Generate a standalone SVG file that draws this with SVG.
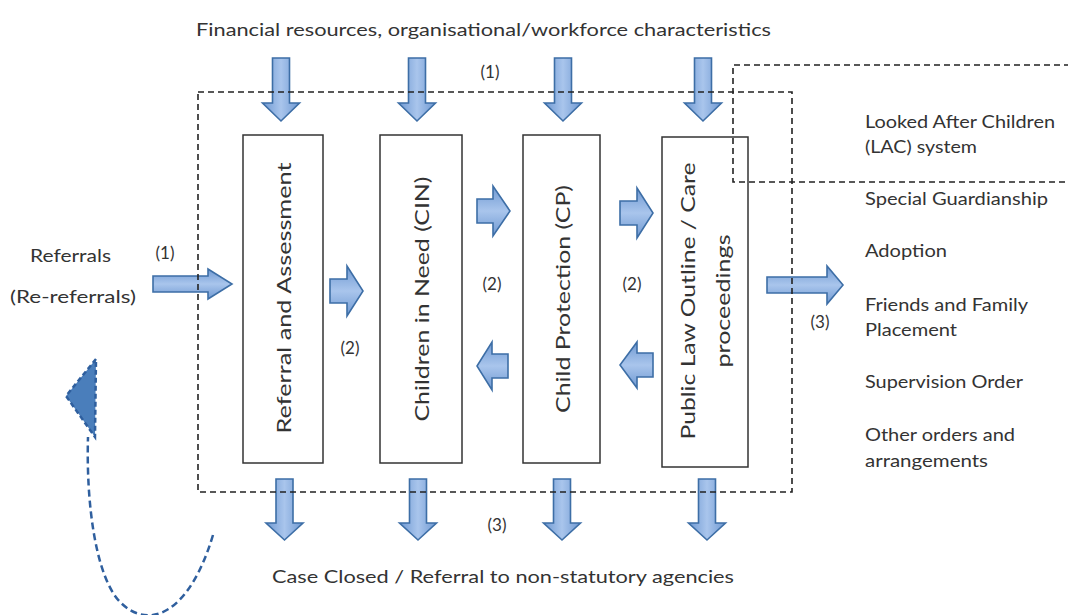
<svg xmlns="http://www.w3.org/2000/svg" width="1068" height="615" viewBox="0 0 1068 615">
<style>
.t{font-family:Lato,"Liberation Sans",sans-serif;fill:#333;}
.box{fill:#fff;stroke:#333;stroke-width:1.5;}
.dash{fill:none;stroke:#222;stroke-width:1.6;stroke-dasharray:6 4;}
.ah{fill:url(#gv);stroke:#3d6ea6;stroke-width:1.6;stroke-linejoin:miter;}
.av{fill:url(#gh);stroke:#3d6ea6;stroke-width:1.6;stroke-linejoin:miter;}
.lb{font-size:17px;text-anchor:middle;}
</style>
<defs>
<linearGradient id="gv" x1="0" y1="0" x2="0" y2="1">
<stop offset="0" stop-color="#6f99d2"/><stop offset="0.5" stop-color="#a9c5ec"/><stop offset="1" stop-color="#6f99d2"/>
</linearGradient>
<linearGradient id="gh" x1="0" y1="0" x2="1" y2="0">
<stop offset="0" stop-color="#6f99d2"/><stop offset="0.5" stop-color="#a9c5ec"/><stop offset="1" stop-color="#6f99d2"/>
</linearGradient>
</defs>
<rect width="1068" height="615" fill="#fff"/>

<g id="node-referral">
<rect class="box" x="243" y="135" width="80" height="328"/>
<text class="t" font-size="19.5" text-anchor="middle" textLength="271" lengthAdjust="spacingAndGlyphs" transform="translate(284,298) rotate(-90)" y="7">Referral and Assessment</text>
</g>
<g id="node-cin">
<rect class="box" x="380" y="135" width="82" height="328"/>
<text class="t" font-size="19.5" text-anchor="middle" textLength="245" lengthAdjust="spacingAndGlyphs" transform="translate(422,299) rotate(-90)" y="7">Children in Need (CIN)</text>
</g>
<g id="node-cp">
<rect class="box" x="523" y="135" width="77" height="328"/>
<text class="t" font-size="19.5" text-anchor="middle" textLength="228" lengthAdjust="spacingAndGlyphs" transform="translate(563,299) rotate(-90)" y="7">Child Protection (CP)</text>
</g>
<g id="node-plo">
<rect class="box" x="662" y="137" width="86" height="330"/>
<text class="t" font-size="19.5" text-anchor="middle" textLength="277" lengthAdjust="spacingAndGlyphs" transform="translate(688,301) rotate(-90)" y="7">Public Law Outline / Care</text>
<text class="t" font-size="19.5" text-anchor="middle" textLength="133" lengthAdjust="spacingAndGlyphs" transform="translate(723,301) rotate(-90)" y="7">proceedings</text>
</g>

<g id="node-inputs">
<text class="t" font-size="18" x="196" y="36" textLength="575" lengthAdjust="spacingAndGlyphs">Financial resources, organisational/workforce characteristics</text>
</g>
<g id="node-referrals">
<text class="t" font-size="18" x="30" y="262" textLength="81" lengthAdjust="spacingAndGlyphs">Referrals</text>
<text class="t" font-size="18" x="10" y="303" textLength="126" lengthAdjust="spacingAndGlyphs">(Re-referrals)</text>
</g>
<g id="node-lac">
<text class="t" font-size="17" x="865" y="128" textLength="190" lengthAdjust="spacingAndGlyphs">Looked After Children</text>
<text class="t" font-size="17" x="865" y="153" textLength="112" lengthAdjust="spacingAndGlyphs">(LAC) system</text>
</g>
<g id="node-outcomes">
<text class="t" font-size="17" x="865" y="205" textLength="183" lengthAdjust="spacingAndGlyphs">Special Guardianship</text>
<text class="t" font-size="17" x="865" y="257" textLength="82" lengthAdjust="spacingAndGlyphs">Adoption</text>
<text class="t" font-size="17" x="865" y="311" textLength="163" lengthAdjust="spacingAndGlyphs">Friends and Family</text>
<text class="t" font-size="17" x="865" y="336" textLength="92" lengthAdjust="spacingAndGlyphs">Placement</text>
<text class="t" font-size="17" x="865" y="388" textLength="158" lengthAdjust="spacingAndGlyphs">Supervision Order</text>
<text class="t" font-size="17" x="865" y="441" textLength="150" lengthAdjust="spacingAndGlyphs">Other orders and</text>
<text class="t" font-size="17" x="865" y="467" textLength="123" lengthAdjust="spacingAndGlyphs">arrangements</text>
</g>
<g id="node-closed">
<text class="t" font-size="18" x="272" y="583" textLength="462" lengthAdjust="spacingAndGlyphs">Case Closed / Referral to non-statutory agencies</text>
</g>

<g id="connectors">
<polygon class="av" points="272.5,58 289.5,58 289.5,103 299.5,103 281,121 262.5,103 272.5,103"/>
<polygon class="av" points="408.5,58 425.5,58 425.5,103 435.5,103 417,121 398.5,103 408.5,103"/>
<polygon class="av" points="554.5,58 571.5,58 571.5,103 581.5,103 563,121 544.5,103 554.5,103"/>
<polygon class="av" points="694.5,58 711.5,58 711.5,103 721.5,103 703,121 684.5,103 694.5,103"/>
<polygon class="av" points="276,479 293,479 293,523 303,523 284.5,540 266,523 276,523"/>
<polygon class="av" points="409.5,479 426.5,479 426.5,523 436.5,523 418,540 399.5,523 409.5,523"/>
<polygon class="av" points="553.5,479 570.5,479 570.5,523 580.5,523 562,540 543.5,523 553.5,523"/>
<polygon class="av" points="698.5,479 715.5,479 715.5,523 725.5,523 707,540 688.5,523 698.5,523"/>
<polygon class="ah" points="153,276 208,276 208,269 232,284 208,299 208,292 153,292"/>
<polygon class="ah" points="330,279 347,279 347,266 363,291 347,316 347,303 330,303"/>
<polygon class="ah" points="477,199 493,199 493,186 510,211 493,236 493,223 477,223"/>
<polygon class="ah" points="620,201 637,201 637,188 653,213 637,238 637,225 620,225"/>
<polygon class="ah" points="508,354 492,354 492,342 477,366 492,390 492,378 508,378"/>
<polygon class="ah" points="653,353 637,353 637,342 620,365 637,388 637,377 653,377"/>
<polygon class="ah" points="767,277 827,277 827,266 843,285 827,304 827,293 767,293"/>
<path d="M213 535 C190 612 150 632 120 602 C96 577 86 505 88 437" fill="none" stroke="#2f5f9e" stroke-width="2.5" stroke-dasharray="7 4"/>
<polygon points="96,359 66,396 95,437" fill="#4a7ebb" stroke="#2f5f9e" stroke-width="2.5" stroke-dasharray="5 3"/>
</g>

<g id="frames">
<rect class="dash" x="198" y="92" width="594" height="400"/>
<path class="dash" d="M1070 65 H733 V182 H1070"/>
</g>

<g id="labels">
<text class="t lb" x="490" y="78">(1)</text>
<text class="t lb" x="165" y="259">(1)</text>
<text class="t lb" x="350" y="354">(2)</text>
<text class="t lb" x="492" y="290">(2)</text>
<text class="t lb" x="632" y="290">(2)</text>
<text class="t lb" x="820" y="328">(3)</text>
<text class="t lb" x="497" y="531">(3)</text>
</g>
</svg>
